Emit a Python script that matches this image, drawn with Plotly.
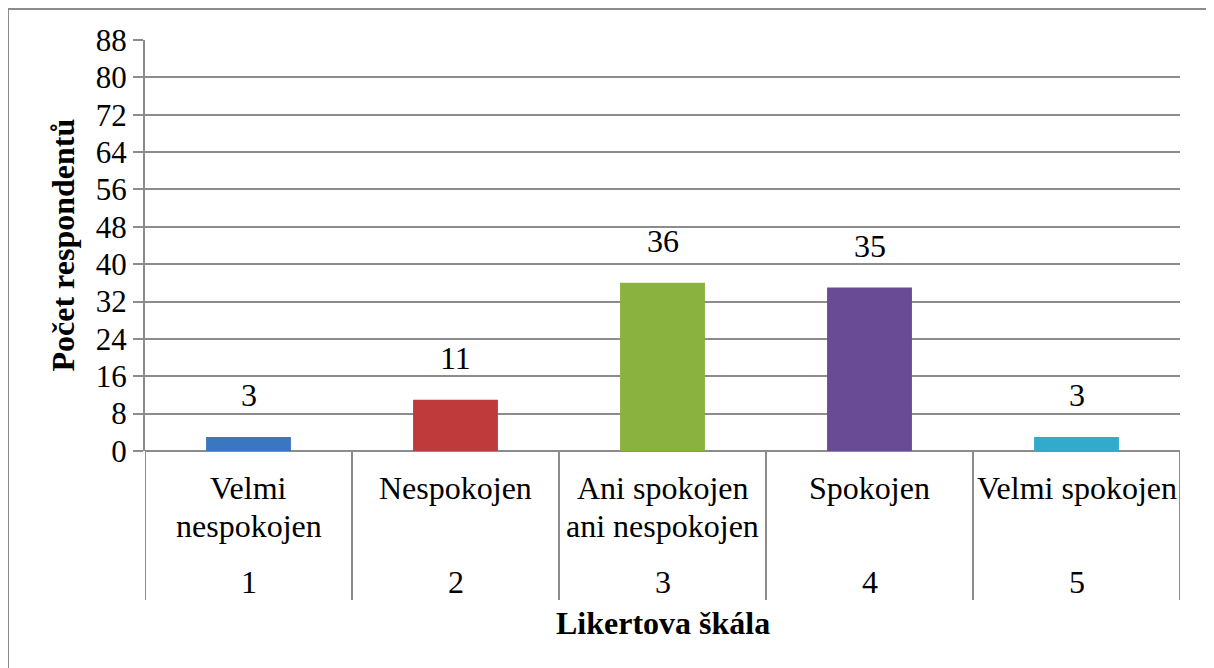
import plotly.graph_objects as go

categories = ["1", "2", "3", "4", "5"]
label_lines = [["Velmi", "nespokojen"], ["Nespokojen"], ["Ani spokojen", "ani nespokojen"], ["Spokojen"], ["Velmi spokojen"]]
values = [3, 11, 36, 35, 3]
colors = ["#3a77c0", "#bf3a3a", "#8ab23f", "#694b95", "#31aacb"]
y_ticks = list(range(0, 89, 8))

x_pos = list(range(1, len(categories) + 1))
FONT = "Liberation Serif"
GRAY = "#8c8c8c"
FS = 32
FT = 31

W, HF = 1206, 660
L, R, T, B = 137, 1172, 32, 443  # plot area in figure pixels

fig = go.Figure()
fig.add_trace(go.Bar(x=x_pos, y=values, width=0.41, marker=dict(color=colors, line=dict(width=0)),
                     showlegend=False, hoverinfo="skip"))

def py(y_fig):
    return (B - y_fig) / float(B - T)
def px(x_fig):
    return (x_fig - L) / float(R - L)

ann = []
shapes = []
for x, v in zip(x_pos, values):
    ann.append(dict(x=x, y=v, xref="x", yref="y", text=str(v), showarrow=False,
                    yanchor="middle", yshift=42, font=dict(size=FS, color="black", family=FONT)))
line_y = [py(480), py(518)]
for x, lines, c in zip(x_pos, label_lines, categories):
    for i, t in enumerate(lines):
        ann.append(dict(x=x, y=line_y[i], xref="x", yref="paper", text=t, showarrow=False,
                        yanchor="middle", font=dict(size=FS, color="black", family=FONT)))
    ann.append(dict(x=x, y=py(574), xref="x", yref="paper", text=c, showarrow=False,
                    yanchor="middle", font=dict(size=FS, color="black", family=FONT)))
for b in [0.5 + i for i in range(len(categories) + 1)]:
    shapes.append(dict(type="line", xref="x", yref="paper", x0=b, x1=b, y0=0, y1=py(592),
                       line=dict(color=GRAY, width=2)))
shapes.append(dict(type="rect", xref="paper", yref="paper", x0=px(0), x1=px(1202), y0=py(680), y1=py(1),
                   line=dict(color=GRAY, width=2), layer="below"))

ann.append(dict(x=0.5, y=py(615), xref="paper", yref="paper", text="<b>Likertova škála</b>", showarrow=False,
                yanchor="middle", font=dict(size=FS, color="black", family=FONT)))
ann.append(dict(x=px(54), y=0.5, xref="paper", yref="paper", text="<b>Počet respondentů</b>", showarrow=False,
                textangle=-90, xanchor="center", yanchor="middle", font=dict(size=FS, color="black", family=FONT)))

fig.update_layout(
    width=W, height=HF,
    margin=dict(l=L, r=W - R, t=T, b=HF - B),
    paper_bgcolor="white", plot_bgcolor="white",
    font=dict(family=FONT, size=FS, color="black"),
    xaxis=dict(range=[0.5, 5.5], showticklabels=False, showgrid=False, zeroline=False,
               showline=False, ticks=""),
    yaxis=dict(range=[0, 88], tickvals=y_ticks, showgrid=True, gridcolor=GRAY, gridwidth=2,
               zeroline=True, zerolinecolor=GRAY, zerolinewidth=2,
               showline=True, linecolor=GRAY, linewidth=2, ticks="outside", ticklen=10, tickcolor=GRAY, tickwidth=2,
               tickfont=dict(size=FT, color="black", family=FONT)),
    annotations=ann, shapes=shapes,
)
fig.write_html("out.html")
